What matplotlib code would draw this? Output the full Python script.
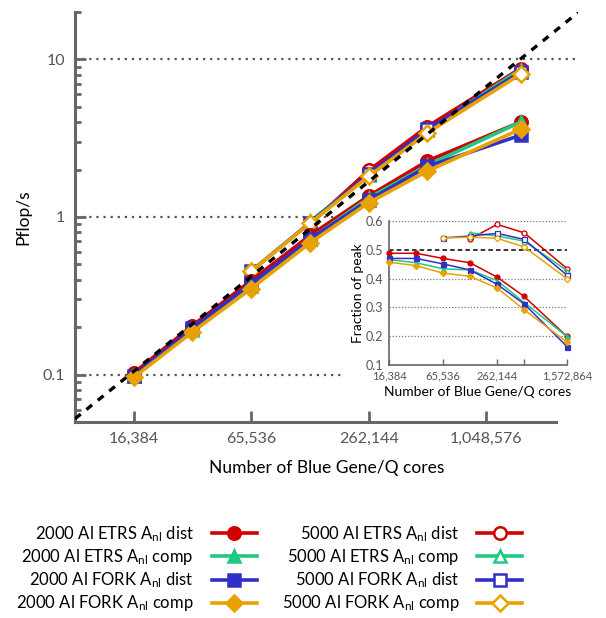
import numpy as np
import matplotlib
matplotlib.use("Agg")
from matplotlib import pyplot as plt
from matplotlib.patches import Rectangle
from matplotlib.ticker import FixedLocator, LogLocator, NullFormatter, NullLocator

plt.rcParams['font.family'] = ['Lato', 'DejaVu Sans']
plt.rcParams['mathtext.fontset'] = 'custom'
plt.rcParams['mathtext.rm'] = 'Lato'
plt.rcParams['mathtext.it'] = 'Lato:italic'

# fraction of peak
cores_2000 = [16384, 32768, 65536, 131072, 262144, 524288, 1572864]
etrs_dist_2000 = [0.488, 0.488, 0.470, 0.455, 0.405, 0.338, 0.199]
etrs_comp_2000 = [0.466, 0.455, 0.434, 0.430, 0.393, 0.317, 0.199]
fork_dist_2000 = [0.470, 0.470, 0.451, 0.430, 0.380, 0.312, 0.164]
fork_comp_2000 = [0.457, 0.445, 0.419, 0.408, 0.367, 0.292, 0.179]

cores_5000_etrs = [131072, 262144, 524288, 1572864]
cores_5000_fork = [65536, 131072, 262144, 524288, 1572864]
etrs_dist_5000 = [0.538, 0.588, 0.559, 0.435]
etrs_comp_5000 = [0.559, 0.548, 0.530, 0.428]
fork_dist_5000 = [0.541, 0.548, 0.557, 0.536, 0.412]
fork_comp_5000 = [0.541, 0.544, 0.540, 0.510, 0.400]

peak_per_core = 12.8e-6   # Pflop/s per Blue Gene/Q core
ideal_frac = 0.5

main_ticks = [16384, 65536, 262144, 1048576]
main_ticklabels = ["16,384", "65,536", "262,144", "1,048,576"]
inset_ticks = [16384, 65536, 262144, 524288, 1572864]
inset_ticklabels = ["16,384", "65,536", "262,144", "", "1,572,864"]

red = '#d10000'
green = '#1fc983'
blue = '#3030c8'
orange = '#e9a100'
gray = '#666666'

series = [
    ("2000 Al ETRS A$_{\\mathrm{nl}}$ dist", cores_2000, etrs_dist_2000, red, 'o', True),
    ("2000 Al ETRS A$_{\\mathrm{nl}}$ comp", cores_2000, etrs_comp_2000, green, '^', True),
    ("2000 Al FORK A$_{\\mathrm{nl}}$ dist", cores_2000, fork_dist_2000, blue, 's', True),
    ("2000 Al FORK A$_{\\mathrm{nl}}$ comp", cores_2000, fork_comp_2000, orange, 'D', True),
    ("5000 Al ETRS A$_{\\mathrm{nl}}$ dist", cores_5000_etrs, etrs_dist_5000, red, 'o', False),
    ("5000 Al ETRS A$_{\\mathrm{nl}}$ comp", cores_5000_etrs, etrs_comp_5000, green, '^', False),
    ("5000 Al FORK A$_{\\mathrm{nl}}$ dist", cores_5000_fork, fork_dist_5000, blue, 's', False),
    ("5000 Al FORK A$_{\\mathrm{nl}}$ comp", cores_5000_fork, fork_comp_5000, orange, 'D', False),
]

W, H = 606, 618
fig = plt.figure(figsize=(W / 100, H / 100), dpi=100)
ax = fig.add_axes([75 / W, 1 - 422 / H, 503 / W, 410 / H])

xmin, xmax = 8192, 3.1e6
ax.set_xscale('log', base=2)
ax.set_yscale('log')
ax.set_xlim(xmin, xmax)
ax.set_ylim(0.05, 20)

# grid lines
for yv in [0.1, 1, 10]:
    ax.axhline(yv, color='#555555', lw=1.6, ls=(0, (1, 2.2)), zorder=1)

# white area behind the inset
ax.add_patch(Rectangle((345 / W, 1 - 405 / H), (W - 345) / W, 190 / H,
                       transform=fig.transFigure, facecolor='white',
                       edgecolor='none', zorder=1.5, clip_on=False))

handles = []
for label, c, frac, col, mk, filled in series:
    c = np.array(c, dtype=float)
    perf = np.array(frac) * c * peak_per_core
    h, = ax.plot(c, perf, color=col, marker=mk, lw=2.6,
                 ms=9 if mk != 'D' else 8,
                 mfc=col if filled else 'white', mec=col, mew=1.8,
                 zorder=3 if filled else 2.5, label=label)
    handles.append(h)

xl = np.array([xmin, xmax])
ax.plot(xl, ideal_frac * xl * peak_per_core, color='black', lw=2.4,
        ls=(0, (2.2, 2.2)), zorder=4)

for s in ['top', 'right']:
    ax.spines[s].set_visible(False)
for s in ['left', 'bottom']:
    ax.spines[s].set_color(gray)
    ax.spines[s].set_linewidth(2.2)
ax.spines['bottom'].set_bounds(xmin, 2.4e6)

ax.xaxis.set_major_locator(FixedLocator(main_ticks))
ax.set_xticklabels(main_ticklabels)
ax.xaxis.set_minor_locator(NullLocator())
ax.yaxis.set_major_locator(FixedLocator([0.1, 1, 10]))
ax.set_yticklabels(["0.1", "1", "10"])
ax.yaxis.set_minor_locator(LogLocator(base=10, subs=np.arange(2, 10)))
ax.yaxis.set_minor_formatter(NullFormatter())
ax.tick_params(which='major', direction='in', length=8, width=2, color=gray,
               labelcolor='#555555', labelsize=11.5, pad=7)
ax.tick_params(which='minor', direction='in', length=4, width=2, color=gray)
ax.set_xlabel("Number of Blue Gene/Q cores", fontsize=12.5, labelpad=10)
ax.set_ylabel("Pflop/s", fontsize=12.5, labelpad=8)

# inset: fraction of peak
ins = fig.add_axes([389 / W, 1 - 365 / H, 178 / W, 144 / H])
ins.set_xscale('log', base=2)
ins.set_xlim(16384, 1572864)
ins.set_ylim(0.1, 0.6)
for yv in [0.2, 0.3, 0.4, 0.6]:
    ins.axhline(yv, color='#777777', lw=0.9, ls=(0, (1, 1.5)), zorder=1)
ins.axhline(ideal_frac, color='black', lw=1.1, ls=(0, (3, 2)), zorder=1)
for label, c, frac, col, mk, filled in series:
    ins.plot(c, frac, color=col, marker=mk, lw=1.1, ms=3.6 if mk != 'D' else 3.2,
             mfc=col if filled else 'white', mec=col, mew=0.9,
             clip_on=False, zorder=3)
for s in ['top', 'right']:
    ins.spines[s].set_visible(False)
for s in ['left', 'bottom']:
    ins.spines[s].set_color(gray)
    ins.spines[s].set_linewidth(1.2)
ins.xaxis.set_major_locator(FixedLocator(inset_ticks))
ins.set_xticklabels(inset_ticklabels)
ins.xaxis.set_minor_locator(NullLocator())
ins.yaxis.set_major_locator(FixedLocator([0.1, 0.2, 0.3, 0.4, 0.5, 0.6]))
ins.set_yticklabels(["0.1", "0.2", "0.3", "0.4", "0.5", "0.6"])
ins.yaxis.set_minor_locator(NullLocator())
ins.tick_params(axis='x', direction='in', length=4, width=1, color=gray,
                labelcolor='#555555', labelsize=8, pad=4)
ins.tick_params(axis='y', length=0, labelcolor='#555555', labelsize=9, pad=4)
ins.set_xlabel("Number of Blue Gene/Q cores", fontsize=10, labelpad=3)
ins.set_ylabel("Fraction of peak", fontsize=10, labelpad=1)

fig.legend(handles=handles, loc='upper left', bbox_to_anchor=(16 / W, 1 - 524 / H),
           ncol=2, frameon=False, markerfirst=False, fontsize=12,
           handlelength=2.7, handletextpad=1.08, columnspacing=1.5,
           labelspacing=0.2, borderpad=0, borderaxespad=0)

fig.savefig("out.png", dpi=100)
